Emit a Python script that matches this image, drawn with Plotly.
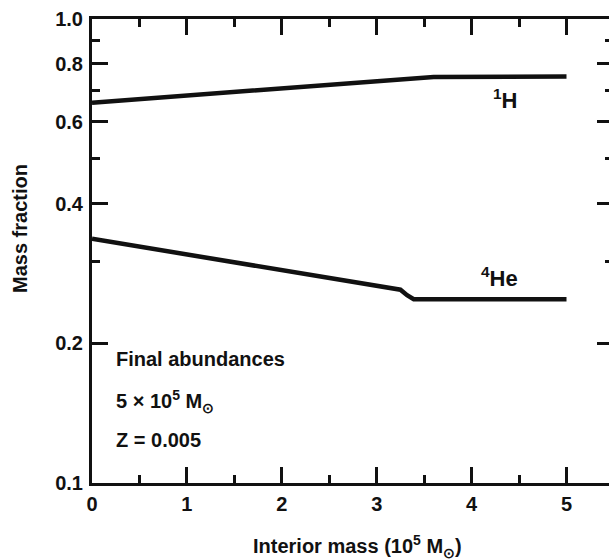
import plotly.graph_objects as go

# Interior mass coordinate (units of 1e5 solar masses)
h_mass = [0.0, 3.6, 5.0]
h_frac = [0.66, 0.75, 0.752]

he_mass = [0.0, 3.25, 3.32, 3.39, 5.0]
he_frac = [0.336, 0.261, 0.254, 0.249, 0.249]

x_major = [0, 1, 2, 3, 4, 5]
x_minor = [0.5, 1.5, 2.5, 3.5, 4.5, 5.5]
y_major = [0.1, 0.2, 0.4, 0.6, 0.8, 1.0]
y_major_text = ["0.1", "0.2", "0.4", "0.6", "0.8", "1.0"]
y_minor = [0.3, 0.5, 0.7, 0.9]

W, H = 609, 560
L, T, B = 92, 19, 77
PW, PH = W - L, H - T - B
FONT = "Liberation Sans, Arial, sans-serif"
INK = "#111111"


def px(x):
    return (x - L) / PW


def py(y):
    return (H - B - y) / PH


fig = go.Figure()
fig.add_trace(go.Scatter(x=he_mass, y=he_frac, mode="lines",
                         line=dict(color=INK, width=4.5), hoverinfo="skip"))
fig.add_trace(go.Scatter(x=h_mass, y=h_frac, mode="lines", xaxis="x2", yaxis="y2",
                         line=dict(color=INK, width=4.5), hoverinfo="skip"))

axis_font = dict(family=FONT, size=20, color=INK, weight="bold")

fig.update_layout(
    width=W, height=H,
    margin=dict(l=L, r=0, t=T, b=B),
    paper_bgcolor="white", plot_bgcolor="white",
    showlegend=False,
    font=dict(family=FONT, color=INK),
    xaxis=dict(
        range=[0, PW / 94.9], showgrid=False, zeroline=False,
        showline=True, linewidth=3, linecolor=INK,
        ticks="inside", ticklen=16, tickwidth=2.5, tickcolor=INK,
        tickmode="array", tickvals=x_major, ticktext=[str(v) for v in x_major],
        tickfont=axis_font, ticklabelstandoff=1,
        minor=dict(tickmode="array", tickvals=x_minor, ticks="inside",
                   ticklen=8, tickwidth=2.5, tickcolor=INK, showgrid=False),
    ),
    xaxis2=dict(
        matches="x", overlaying="x", side="top", anchor="y2",
        showgrid=False, zeroline=False, showticklabels=False,
        showline=True, linewidth=3, linecolor=INK,
        ticks="inside", ticklen=16, tickwidth=2.5, tickcolor=INK,
        tickmode="array", tickvals=x_major,
        minor=dict(tickmode="array", tickvals=x_minor, ticks="inside",
                   ticklen=8, tickwidth=2.5, tickcolor=INK, showgrid=False),
    ),
    yaxis=dict(
        type="log", range=[-1, 0], showgrid=False, zeroline=False,
        showline=True, linewidth=3, linecolor=INK,
        ticks="inside", ticklen=16, tickwidth=2.5, tickcolor=INK,
        tickmode="array", tickvals=y_major, ticktext=y_major_text,
        tickfont=axis_font, ticklabelstandoff=2,
        minor=dict(tickmode="array", tickvals=y_minor, ticks="inside",
                   ticklen=8, tickwidth=2.5, tickcolor=INK, showgrid=False),
    ),
    yaxis2=dict(
        type="log", matches="y", overlaying="y", side="right", anchor="x2",
        showgrid=False, zeroline=False, showticklabels=False, showline=False,
        ticks="inside", ticklen=12, tickwidth=2.5, tickcolor=INK,
        tickmode="array", tickvals=y_major,
        minor=dict(tickmode="array", tickvals=y_minor, ticks="inside",
                   ticklen=4, tickwidth=2.5, tickcolor=INK, showgrid=False),
    ),
)

ann_font = dict(family=FONT, size=20, color=INK, weight="bold")
notes = [
    ("Final abundances", 114, 359),
    ("5 × 10<sup>5</sup> M<sub>⊙</sub>", 114, 401),
    ("Z = 0.005", 114, 440),
]
for text, x0, yc in notes:
    fig.add_annotation(text=text, xref="paper", yref="paper", x=px(x0), y=py(yc),
                       xanchor="left", yanchor="middle", showarrow=False, font=ann_font)

label_font = dict(family=FONT, size=22, color=INK, weight="bold")
fig.add_annotation(text="<sup>1</sup>H", xref="paper", yref="paper",
                   x=px(505), y=py(99), xanchor="center", yanchor="middle",
                   showarrow=False, font=label_font)
fig.add_annotation(text="<sup>4</sup>He", xref="paper", yref="paper",
                   x=px(499), y=py(277), xanchor="center", yanchor="middle",
                   showarrow=False, font=label_font)

# axis titles
fig.add_annotation(text="Interior mass (10<sup>5</sup> M<sub>⊙</sub>)",
                   xref="paper", yref="paper", x=px(357), y=py(546),
                   xanchor="center", yanchor="middle", showarrow=False,
                   font=dict(family=FONT, size=20, color=INK, weight="bold"))
fig.add_annotation(text="Mass fraction", textangle=-90,
                   xref="paper", yref="paper", x=px(20), y=py(229),
                   xanchor="center", yanchor="middle", showarrow=False,
                   font=dict(family=FONT, size=20, color=INK, weight="bold"))

fig.write_html("out.html")
